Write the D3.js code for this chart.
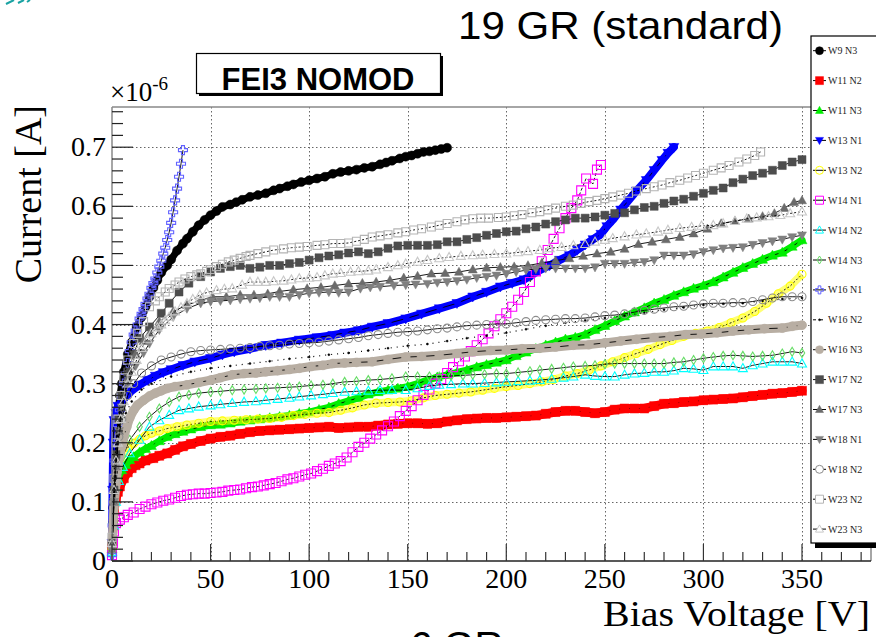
<!DOCTYPE html>
<html><head><meta charset="utf-8">
<script src="https://cdn.jsdelivr.net/npm/d3@7"></script>
<style>body{margin:0;background:#fff;} svg{display:block;}</style>
</head><body>
<svg id="chart" width="876" height="637"></svg>
<script>
// ---------- DATA (Bias voltage [V], current [x1e-6 A]) ----------
const W9_N3 = [[0,0.02],[0.5,0.09],[1,0.15],[2,0.21],[3,0.25],[4,0.28],[5,0.30],[6,0.32],[8,0.35],[10,0.37],[12.5,0.396],[15,0.413],[17,0.43],[19,0.447],[21,0.462],[23,0.475],[25,0.488],[28,0.5],[30,0.51],[33,0.525],[36,0.537],[38,0.545],[41,0.557],[44,0.568],[47,0.577],[50,0.585],[53,0.592],[56,0.599],[60,0.603],[63,0.607],[66,0.611],[70,0.616],[74,0.619],[78,0.622],[82,0.627],[85,0.63],[89,0.634],[92,0.637],[96,0.641],[100,0.644],[104,0.647],[108,0.65],[112,0.655],[116,0.658],[120,0.66],[124,0.662],[128,0.665],[132,0.667],[136,0.671],[139,0.674],[142,0.677],[146,0.681],[149,0.684],[152,0.686],[155,0.689],[158,0.692],[161,0.693],[164,0.695],[167,0.697],[170,0.699]];
const W11_N2 = [[0,0.02],[0.5,0.06],[1,0.085],[2,0.105],[3,0.117],[4,0.126],[6,0.14],[8,0.15],[10,0.157],[12,0.162],[14,0.165],[17,0.17],[21,0.174],[24,0.178],[28,0.182],[32,0.188],[36,0.194],[40,0.198],[45,0.203],[50,0.207],[55,0.21],[60,0.212],[65,0.215],[70,0.218],[75,0.22],[80,0.221],[85,0.222],[90,0.223],[95,0.224],[100,0.225],[105,0.226],[110,0.227],[115,0.225],[120,0.226],[125,0.227],[130,0.227],[135,0.229],[140,0.231],[145,0.232],[150,0.233],[155,0.233],[160,0.232],[165,0.233],[170,0.236],[175,0.238],[180,0.24],[185,0.241],[190,0.242],[195,0.242],[200,0.243],[205,0.244],[210,0.245],[215,0.246],[220,0.249],[225,0.252],[230,0.254],[235,0.254],[240,0.252],[245,0.25],[250,0.252],[255,0.256],[260,0.258],[265,0.258],[270,0.258],[275,0.262],[280,0.266],[285,0.267],[290,0.269],[295,0.27],[300,0.272],[305,0.273],[310,0.274],[315,0.275],[320,0.277],[325,0.279],[330,0.281],[335,0.283],[340,0.284],[345,0.286],[350,0.288]];
const W11_N3 = [[0,0.02],[0.5,0.07],[1,0.1],[2,0.125],[3,0.14],[5,0.154],[7,0.163],[9,0.171],[11,0.176],[14,0.184],[17,0.19],[20,0.195],[24,0.203],[28,0.21],[32,0.215],[36,0.219],[40,0.223],[45,0.227],[50,0.23],[55,0.231],[60,0.233],[65,0.236],[70,0.238],[75,0.24],[80,0.242],[85,0.244],[90,0.246],[95,0.249],[100,0.252],[105,0.256],[110,0.26],[115,0.266],[120,0.271],[125,0.276],[130,0.282],[135,0.286],[140,0.289],[145,0.292],[150,0.295],[155,0.3],[160,0.306],[165,0.311],[170,0.315],[175,0.319],[180,0.323],[185,0.328],[190,0.332],[195,0.336],[200,0.34],[205,0.347],[210,0.353],[215,0.359],[220,0.365],[225,0.37],[230,0.375],[235,0.378],[240,0.383],[245,0.391],[250,0.398],[255,0.406],[260,0.414],[265,0.421],[270,0.428],[275,0.436],[280,0.442],[285,0.449],[290,0.455],[295,0.461],[300,0.466],[305,0.472],[310,0.48],[315,0.488],[320,0.496],[325,0.503],[330,0.51],[335,0.517],[340,0.522],[345,0.532],[350,0.543]];
const W13_N1 = [[0,0.03],[0.3,0.12],[0.6,0.2],[1,0.238],[2,0.25],[3,0.262],[5,0.27],[7,0.278],[10,0.288],[14,0.298],[18,0.306],[22,0.313],[26,0.319],[30,0.324],[36,0.331],[42,0.337],[50,0.343],[56,0.349],[62,0.354],[70,0.359],[78,0.365],[86,0.369],[95,0.374],[104,0.378],[112,0.382],[118,0.386],[125,0.39],[132,0.396],[140,0.402],[149,0.41],[157,0.418],[166,0.427],[175,0.436],[183,0.447],[190,0.455],[197,0.464],[203,0.47],[209,0.476],[213,0.484],[217,0.492],[222,0.5],[227,0.509],[232,0.517],[236,0.526],[240,0.535],[244,0.544],[248,0.553],[251,0.566],[254,0.577],[258,0.594],[262,0.61],[266,0.626],[271,0.644],[275,0.661],[279,0.678],[282,0.69],[285,0.7]];
const W13_N2 = [[0,0.02],[1,0.1],[2,0.14],[3,0.16],[4,0.172],[6,0.183],[8,0.192],[11,0.199],[14,0.206],[17,0.212],[20,0.216],[24,0.22],[28,0.224],[33,0.227],[38,0.23],[44,0.233],[50,0.236],[56,0.237],[62,0.238],[68,0.239],[74,0.24],[80,0.241],[86,0.243],[92,0.246],[98,0.248],[104,0.25],[110,0.251],[116,0.255],[122,0.259],[128,0.264],[134,0.267],[140,0.268],[146,0.269],[152,0.271],[158,0.276],[164,0.28],[170,0.282],[176,0.284],[182,0.286],[188,0.289],[194,0.292],[200,0.295],[206,0.297],[212,0.3],[218,0.303],[224,0.307],[230,0.313],[236,0.317],[242,0.323],[248,0.33],[254,0.337],[260,0.344],[266,0.351],[272,0.358],[278,0.366],[284,0.373],[290,0.38],[296,0.385],[302,0.389],[308,0.395],[314,0.403],[320,0.411],[326,0.422],[332,0.436],[338,0.452],[344,0.465],[350,0.485]];
const W14_N1 = [[0,0.01],[0.5,0.03],[1,0.05],[2,0.064],[4,0.07],[6,0.074],[8,0.078],[11,0.082],[14,0.088],[17,0.092],[20,0.096],[23,0.099],[26,0.102],[29,0.104],[32,0.107],[35,0.11],[38,0.112],[41,0.113],[44,0.114],[47,0.114],[50,0.115],[53,0.116],[56,0.117],[59,0.119],[62,0.12],[65,0.121],[68,0.123],[71,0.125],[74,0.126],[77,0.128],[80,0.13],[83,0.132],[86,0.135],[89,0.138],[92,0.14],[95,0.143],[98,0.146],[101,0.148],[104,0.152],[107,0.156],[110,0.161],[113,0.165],[116,0.169],[119,0.175],[122,0.184],[125,0.193],[128,0.2],[131,0.207],[134,0.214],[137,0.221],[140,0.228],[143,0.236],[146,0.245],[149,0.254],[152,0.262],[155,0.272],[158,0.281],[161,0.29],[164,0.3],[167,0.308],[170,0.318],[173,0.328],[176,0.338],[179,0.346],[182,0.355],[185,0.365],[188,0.375],[191,0.385],[194,0.397],[197,0.409],[200,0.419],[203,0.43],[206,0.442],[209,0.455],[212,0.472],[215,0.49],[218,0.507],[221,0.526],[224,0.545],[227,0.563],[230,0.58],[233,0.597],[236,0.61],[238,0.627],[240.5,0.647],[244,0.638],[246,0.662],[248,0.67]];
const W14_N2 = [[0,0.015],[1,0.06],[2,0.1],[3.5,0.135],[5.5,0.159],[9,0.182],[14,0.205],[19,0.227],[24,0.238],[29,0.247],[34,0.255],[39,0.258],[44,0.261],[50,0.263],[55,0.265],[61,0.267],[67,0.269],[73,0.27],[78,0.272],[84,0.274],[90,0.276],[95,0.278],[101,0.28],[107,0.282],[112,0.284],[118,0.286],[124,0.287],[130,0.288],[136,0.289],[142,0.289],[149,0.289],[155,0.292],[161,0.296],[166,0.298],[172,0.299],[178,0.3],[183,0.3],[189,0.301],[195,0.302],[200,0.303],[206,0.304],[212,0.305],[217,0.306],[223,0.308],[229,0.31],[234,0.312],[240,0.315],[245,0.313],[250,0.312],[255,0.312],[260,0.315],[265,0.317],[270,0.318],[275,0.32],[280,0.32],[285,0.322],[290,0.326],[295,0.325],[300,0.323],[305,0.329],[310,0.329],[315,0.329],[320,0.326],[325,0.331],[330,0.334],[335,0.337],[340,0.337],[345,0.337],[350,0.334]];
const W14_N3 = [[0,0.015],[1,0.07],[2,0.11],[3.5,0.15],[5.5,0.177],[9,0.205],[14,0.227],[19,0.244],[24,0.258],[29,0.269],[34,0.278],[39,0.281],[44,0.284],[50,0.286],[55,0.287],[61,0.289],[67,0.29],[73,0.291],[78,0.292],[84,0.293],[90,0.294],[95,0.295],[101,0.297],[107,0.298],[112,0.3],[118,0.303],[124,0.304],[130,0.306],[136,0.307],[142,0.309],[149,0.312],[155,0.312],[161,0.312],[166,0.312],[172,0.313],[178,0.314],[183,0.315],[189,0.316],[195,0.317],[200,0.317],[206,0.319],[212,0.321],[217,0.323],[223,0.325],[229,0.327],[234,0.329],[240,0.33],[245,0.331],[250,0.333],[255,0.334],[260,0.334],[265,0.334],[270,0.334],[275,0.334],[280,0.334],[285,0.336],[290,0.337],[295,0.34],[300,0.343],[305,0.345],[310,0.347],[315,0.348],[320,0.347],[325,0.346],[330,0.347],[335,0.348],[340,0.351],[345,0.354],[350,0.352]];
const W16_N1 = [[0,0.01],[0.3,0.06],[0.7,0.12],[1.2,0.17],[2,0.2],[3,0.23],[4,0.255],[5,0.28],[6,0.3],[7,0.318],[8,0.335],[9,0.355],[10,0.37],[11,0.383],[12,0.39],[13,0.4],[14,0.41],[15,0.418],[16,0.426],[17,0.435],[18,0.444],[19,0.452],[20,0.462],[21,0.47],[22,0.478],[23,0.488],[24,0.498],[25,0.508],[26,0.52],[27,0.53],[28,0.543],[29,0.556],[30,0.572],[31,0.59],[32,0.61],[33,0.63],[34,0.65],[35,0.672],[36,0.695]];
const W16_N2 = [[0,0.02],[1,0.12],[2,0.17],[4,0.22],[7,0.25],[10,0.27],[15,0.29],[20,0.3],[30,0.312],[40,0.32],[50,0.326],[60,0.33],[70,0.334],[80,0.338],[90,0.342],[100,0.345],[110,0.349],[120,0.352],[130,0.356],[140,0.36],[150,0.364],[160,0.367],[170,0.372],[180,0.377],[190,0.381],[200,0.386],[210,0.392],[220,0.398],[230,0.403],[240,0.407],[250,0.411],[260,0.415],[270,0.42],[280,0.425],[290,0.429],[300,0.433],[310,0.435],[320,0.436],[330,0.44],[340,0.443],[350,0.445]];
const W16_N3 = [[0,0.03],[1,0.09],[2,0.13],[3,0.16],[4,0.18],[5,0.195],[6,0.21],[7.5,0.227],[9,0.242],[11,0.255],[13,0.264],[16,0.272],[19,0.279],[22,0.284],[25,0.288],[28,0.292],[32,0.295],[38,0.298],[44,0.302],[50,0.306],[55,0.31],[61,0.315],[67,0.317],[73,0.318],[78,0.32],[84,0.322],[90,0.324],[95,0.326],[101,0.329],[107,0.331],[112,0.334],[118,0.335],[124,0.336],[132,0.337],[140,0.341],[149,0.345],[157,0.346],[166,0.348],[175,0.351],[183,0.354],[192,0.356],[200,0.357],[208,0.359],[217,0.36],[225,0.362],[234,0.365],[242,0.366],[250,0.369],[258,0.372],[266,0.375],[275,0.378],[283,0.38],[291,0.383],[299,0.384],[307,0.386],[315,0.389],[323,0.391],[331,0.393],[340,0.394],[345,0.397],[350,0.399]];
const W17_N2 = [[0,0.03],[1,0.12],[2,0.18],[3.5,0.24],[5,0.28],[8,0.32],[11,0.35],[14,0.377],[19,0.396],[25,0.419],[29,0.436],[34,0.455],[39,0.47],[45,0.481],[50,0.489],[55,0.495],[60,0.498],[65,0.5],[70,0.495],[75,0.497],[80,0.5],[85,0.5],[90,0.503],[95,0.505],[100,0.509],[105,0.513],[110,0.516],[115,0.518],[120,0.521],[125,0.523],[130,0.52],[135,0.523],[140,0.529],[145,0.533],[150,0.534],[155,0.534],[160,0.534],[165,0.535],[170,0.54],[175,0.54],[180,0.544],[185,0.547],[190,0.551],[195,0.554],[200,0.557],[205,0.558],[210,0.562],[215,0.565],[220,0.57],[225,0.574],[230,0.577],[235,0.58],[240,0.58],[245,0.582],[250,0.585],[255,0.588],[260,0.589],[265,0.594],[270,0.598],[275,0.6],[280,0.605],[285,0.609],[290,0.612],[295,0.617],[300,0.622],[305,0.627],[310,0.631],[315,0.64],[320,0.646],[325,0.652],[330,0.656],[335,0.661],[340,0.669],[345,0.675],[350,0.679]];
const W17_N3 = [[0,0.02],[1,0.1],[2,0.16],[3.5,0.22],[5,0.26],[8,0.31],[12,0.35],[16,0.372],[19,0.385],[24,0.405],[31,0.422],[38,0.433],[45,0.441],[51,0.447],[58,0.447],[65,0.45],[72,0.45],[79,0.452],[85,0.456],[92,0.459],[99,0.461],[106,0.463],[113,0.466],[120,0.469],[127,0.47],[134,0.472],[141,0.475],[148,0.479],[155,0.482],[162,0.486],[169,0.487],[176,0.489],[183,0.493],[190,0.496],[197,0.497],[204,0.498],[211,0.5],[218,0.504],[225,0.508],[232,0.512],[239,0.516],[246,0.52],[253,0.523],[260,0.528],[267,0.536],[274,0.54],[281,0.544],[288,0.548],[295,0.554],[302,0.562],[309,0.571],[316,0.575],[323,0.579],[330,0.583],[336,0.588],[341,0.597],[346,0.607],[350,0.61]];
const W18_N1 = [[0,0.02],[1,0.1],[2,0.16],[3.5,0.22],[5,0.26],[8,0.3],[12,0.33],[16,0.352],[19,0.368],[24,0.391],[31,0.413],[38,0.427],[45,0.436],[50,0.439],[55,0.44],[60,0.441],[65,0.443],[70,0.444],[75,0.445],[80,0.447],[85,0.447],[90,0.447],[95,0.45],[100,0.453],[105,0.454],[110,0.455],[115,0.454],[120,0.455],[126,0.461],[131,0.463],[136,0.464],[143,0.466],[149,0.467],[154,0.468],[160,0.469],[165,0.471],[170,0.472],[175,0.474],[180,0.476],[185,0.479],[190,0.481],[195,0.483],[200,0.486],[205,0.489],[210,0.492],[215,0.494],[220,0.495],[225,0.495],[230,0.495],[235,0.495],[240,0.495],[245,0.497],[250,0.503],[255,0.503],[260,0.503],[265,0.505],[270,0.506],[275,0.509],[280,0.517],[285,0.517],[290,0.517],[295,0.519],[300,0.523],[305,0.526],[310,0.529],[315,0.53],[320,0.531],[325,0.535],[330,0.538],[335,0.541],[340,0.544],[345,0.548],[350,0.551]];
const W18_N2 = [[0,0.02],[1,0.1],[2,0.16],[3.5,0.21],[5,0.24],[8,0.28],[11,0.3],[15,0.318],[20,0.33],[25,0.34],[30,0.345],[35,0.35],[40,0.354],[45,0.356],[50,0.357],[55,0.358],[60,0.359],[65,0.36],[70,0.361],[75,0.363],[80,0.364],[85,0.365],[90,0.367],[95,0.368],[100,0.369],[105,0.37],[110,0.372],[115,0.374],[120,0.376],[125,0.378],[130,0.381],[135,0.383],[140,0.385],[145,0.387],[150,0.388],[155,0.389],[160,0.391],[165,0.393],[170,0.394],[175,0.396],[180,0.398],[185,0.399],[190,0.4],[195,0.401],[200,0.401],[205,0.403],[210,0.405],[215,0.407],[220,0.408],[225,0.409],[230,0.41],[235,0.41],[240,0.411],[245,0.413],[250,0.415],[255,0.416],[260,0.418],[265,0.421],[270,0.424],[275,0.426],[280,0.428],[285,0.43],[290,0.431],[295,0.433],[300,0.435],[305,0.436],[310,0.436],[315,0.437],[320,0.437],[325,0.439],[330,0.442],[335,0.445],[340,0.447],[345,0.447],[350,0.447]];
const W23_N2 = [[0,0.04],[1,0.14],[2,0.2],[3,0.24],[4.5,0.28],[6,0.31],[8,0.34],[11,0.368],[13,0.385],[16,0.405],[19,0.43],[22,0.44],[24,0.447],[27,0.455],[29,0.461],[32,0.467],[34,0.472],[37,0.477],[40,0.481],[43,0.484],[45,0.486],[48,0.49],[50,0.493],[53,0.498],[56,0.502],[59,0.506],[62,0.509],[65,0.512],[68,0.515],[70,0.517],[74,0.52],[78,0.523],[82,0.526],[87,0.528],[91,0.53],[95,0.531],[99,0.532],[104,0.534],[108,0.535],[112,0.537],[116,0.537],[120,0.538],[124,0.541],[128,0.544],[132,0.548],[136,0.55],[140,0.552],[145,0.555],[149,0.557],[153,0.56],[157,0.562],[162,0.565],[166,0.568],[170,0.571],[175,0.574],[179,0.577],[183,0.579],[187,0.58],[191,0.58],[196,0.581],[200,0.582],[204,0.584],[208,0.586],[213,0.589],[217,0.591],[221,0.594],[225,0.597],[230,0.6],[234,0.602],[238,0.605],[242,0.608],[246,0.61],[250,0.613],[254,0.616],[258,0.619],[262,0.622],[266,0.626],[271,0.63],[275,0.633],[279,0.636],[283,0.64],[288,0.644],[292,0.648],[296,0.652],[300,0.656],[305,0.661],[309,0.665],[313,0.669],[318,0.675],[322,0.68],[326,0.686],[329,0.692]];
const W23_N3 = [[0,0.03],[1,0.12],[2,0.17],[3,0.2],[4.5,0.24],[6,0.27],[8,0.3],[10,0.32],[12.5,0.34],[15,0.36],[18,0.375],[20,0.385],[23,0.395],[25,0.4],[27,0.407],[29,0.413],[32,0.422],[35,0.429],[38,0.436],[41,0.443],[44.6,0.45],[48,0.454],[53,0.458],[57,0.46],[61,0.461],[66,0.467],[70,0.472],[74,0.472],[78,0.472],[82,0.473],[87,0.474],[91,0.476],[95,0.478],[100,0.479],[104,0.48],[108,0.483],[112,0.486],[116,0.487],[121,0.489],[125,0.49],[130,0.491],[134,0.493],[140,0.497],[145,0.5],[149,0.503],[155,0.506],[160,0.509],[166,0.512],[171,0.514],[177,0.516],[183,0.517],[188,0.518],[194,0.519],[200,0.52],[206,0.522],[211,0.524],[217,0.526],[222,0.529],[228,0.531],[234,0.534],[240,0.536],[245,0.54],[250,0.543],[254,0.546],[260,0.549],[266,0.552],[271,0.554],[277,0.557],[282,0.56],[288,0.563],[294,0.565],[299,0.567],[305,0.568],[310,0.571],[316,0.575],[322,0.579],[327,0.581],[333,0.583],[339,0.585],[344,0.588],[350,0.591]];

const xTickValues = [0,50,100,150,200,250,300,350];
const yTickValues = [0,0.1,0.2,0.3,0.4,0.5,0.6,0.7];

// ---------- STYLES ----------
const series = [
 {name:'W9 N3',  data:W9_N3,  color:'#000000', marker:'circle',  fill:true,  size:9, band:7},
 {name:'W11 N2', data:W11_N2, color:'#ff0000', marker:'square',  fill:true,  size:9, band:9},
 {name:'W11 N3', data:W11_N3, color:'#00ee00', marker:'tri',     fill:true,  size:10, band:7},
 {name:'W13 N1', data:W13_N1, color:'#0000ff', marker:'tridown', fill:true,  size:10, band:8},
 {name:'W13 N2', data:W13_N2, color:'#ffff00', marker:'circle',  fill:false, size:8, dash:'2,2', halo:true},
 {name:'W14 N1', data:W14_N1, color:'#ff00ff', marker:'square',  fill:false, size:9, dash:'3,2'},
 {name:'W14 N2', data:W14_N2, color:'#00ffff', marker:'tri',     fill:false, size:9},
 {name:'W14 N3', data:W14_N3, color:'#66dd66', marker:'diamond', fill:false, size:9},
 {name:'W16 N1', data:W16_N1, color:'#6262ff', marker:'cross',   fill:false, size:9},
 {name:'W16 N2', data:W16_N2, color:'#000000', marker:'dot',     fill:true,  size:2, dash:'1,5'},
 {name:'W16 N3', data:W16_N3, color:'#b8aea3', marker:'circle',  fill:true,  size:9, band:9},
 {name:'W17 N2', data:W17_N2, color:'#4d4d4d', marker:'square',  fill:true,  size:8},
 {name:'W17 N3', data:W17_N3, color:'#6b6b6b', marker:'tri',     fill:true,  size:9},
 {name:'W18 N1', data:W18_N1, color:'#808080', marker:'tridown', fill:true,  size:9},
 {name:'W18 N2', data:W18_N2, color:'#8c8c8c', marker:'circle',  fill:false, size:8},
 {name:'W23 N2', data:W23_N2, color:'#b4b4b4', marker:'square',  fill:false, size:8, dash:'2,2'},
 {name:'W23 N3', data:W23_N3, color:'#c8c8c8', marker:'tri',     fill:false, size:9, dash:'2,2'}
];

const svg = d3.select('#chart');
const x = d3.scaleLinear().domain([0,385]).range([112,871]);
const y = d3.scaleLinear().domain([0,0.768]).range([561,107]);
const serif = "'Liberation Serif','Times New Roman',serif";
const sans = "'Liberation Sans',Arial,sans-serif";

function markerPath(type, s){
  const h = s/2;
  switch(type){
    case 'circle': return d3.symbol(d3.symbolCircle, Math.PI*h*h)();
    case 'square': return `M${-h},${-h}H${h}V${h}H${-h}Z`;
    case 'tri': return `M0,${-h*1.05}L${h},${h*0.75}L${-h},${h*0.75}Z`;
    case 'tridown': return `M0,${h*1.05}L${h},${-h*0.75}L${-h},${-h*0.75}Z`;
    case 'diamond': return `M0,${-h}L${h*0.6},0L0,${h}L${-h*0.6},0Z`;
    case 'cross': { const a=s/6; return `M${-a},${-h}H${a}V${-a}H${h}V${a}H${a}V${h}H${-a}V${a}H${-h}V${-a}H${-a}Z`; }
    case 'dot': return d3.symbol(d3.symbolCircle, Math.PI)();
  }
}

// ---------- GRID ----------
const grid = svg.append('g').attr('stroke','#666').attr('stroke-width',1).attr('stroke-dasharray','1.5,2.5');
grid.selectAll('line.v').data(xTickValues.filter(d=>d>0)).join('line')
  .attr('x1',d=>Math.round(x(d))+0.5).attr('x2',d=>Math.round(x(d))+0.5).attr('y1',y(0.768)).attr('y2',y(0));
grid.selectAll('line.h').data(yTickValues.filter(d=>d>0)).join('line')
  .attr('y1',d=>Math.round(y(d))+0.5).attr('y2',d=>Math.round(y(d))+0.5).attr('x1',x(0)).attr('x2',x(385));

// ---------- SERIES ----------
const line = d3.line().x(d=>x(d[0])).y(d=>y(d[1]));
const plotG = svg.append('g');
series.forEach(s=>{
  const g = plotG.append('g');
  if (s.band) {
    g.append('path').attr('d', line(s.data)).attr('fill','none')
     .attr('stroke', s.color).attr('stroke-width', s.band).attr('stroke-linejoin','round').attr('stroke-linecap','round');
  }
  if (s.halo) {
    g.append('path').attr('d', line(s.data)).attr('fill','none')
     .attr('stroke', s.color).attr('stroke-opacity',0.55).attr('stroke-width', 8).attr('stroke-linejoin','round');
  }
  g.append('path').attr('d', line(s.data)).attr('fill','none')
   .attr('stroke', '#000').attr('stroke-width', s.name==='W16 N2' ? 1.2 : 0.9)
   .attr('stroke-dasharray', s.dash || null);
  g.selectAll('path.m').data(s.data).join('path').attr('class','m')
   .attr('transform', d=>`translate(${x(d[0])},${y(d[1])})`)
   .attr('d', markerPath(s.marker, s.size))
   .attr('fill', s.fill ? s.color : 'none')
   .attr('stroke', s.color).attr('stroke-width', s.fill ? 0.5 : 1.1);
});

// ---------- FRAME & AXES ----------
svg.append('line').attr('x1',112).attr('x2',112).attr('y1',107).attr('y2',561).attr('stroke','#888').attr('stroke-width',1.5);
svg.append('line').attr('x1',112).attr('x2',871).attr('y1',107).attr('y2',107).attr('stroke','#888').attr('stroke-width',1.5);
svg.append('line').attr('x1',871).attr('x2',871).attr('y1',107).attr('y2',561).attr('stroke','#888').attr('stroke-width',1.5);
svg.append('line').attr('x1',112).attr('x2',871).attr('y1',561).attr('y2',561).attr('stroke','#222').attr('stroke-width',1.5);

// y ticks
const yMinor = d3.range(0, 0.7601, 0.02);
svg.append('g').selectAll('line').data(yMinor).join('line')
  .attr('x1',112).attr('x2',(d,i)=> i%5===0 ? 133 : 123)
  .attr('y1',d=>y(d)).attr('y2',d=>y(d)).attr('stroke','#222').attr('stroke-width',1.2);
// x ticks
const xMinor = d3.range(0, 381, 10);
svg.append('g').selectAll('line').data(xMinor).join('line')
  .attr('x1',d=>x(d)).attr('x2',d=>x(d)).attr('y1',561)
  .attr('y2',(d,i)=> i%5===0 ? 544 : 552).attr('stroke','#333').attr('stroke-width',1.2);

// tick labels
svg.append('g').selectAll('text').data(yTickValues).join('text')
  .attr('x',106).attr('y',d=>y(d)+9).attr('text-anchor','end')
  .attr('font-family',serif).attr('font-size',28).attr('fill','#000')
  .text(d=>d===0?'0':d3.format('.1f')(d));
svg.append('g').selectAll('text').data(xTickValues).join('text')
  .attr('x',d=>x(d)).attr('y',588).attr('text-anchor','middle')
  .attr('font-family',serif).attr('font-size',28).attr('fill','#000')
  .text(d=>d);

// exponent
const ex = svg.append('text').attr('x',110).attr('y',101).attr('font-family',serif).attr('font-size',27).attr('fill','#000');
ex.append('tspan').text('×10');
ex.append('tspan').attr('font-size',19).attr('dy',-11).text('-6');

// axis titles
svg.append('text').attr('transform','translate(41,105) rotate(-90)').attr('text-anchor','end')
  .attr('font-family',serif).attr('font-size',38).attr('fill','#000').text('Current [A]');
svg.append('text').attr('x',870).attr('y',626).attr('text-anchor','end')
  .attr('font-family',serif).attr('font-size',36).attr('fill','#000')
  .attr('textLength',267).attr('lengthAdjust','spacingAndGlyphs').text('Bias Voltage [V]');

// ---------- LEGEND ----------
svg.append('rect').attr('x',815).attr('y',40).attr('width',80).attr('height',508).attr('fill','#000');
svg.append('rect').attr('x',811).attr('y',36).attr('width',80).attr('height',507).attr('fill','#fff').attr('stroke','#000').attr('stroke-width',1.2);
const leg = svg.append('g');
series.forEach((s,i)=>{
  const ly = 50.7 + i*29.9;
  const g = leg.append('g').attr('transform',`translate(0,${ly})`);
  g.append('line').attr('x1',813).attr('x2',826).attr('y1',0).attr('y2',0).attr('stroke','#000').attr('stroke-width',1)
    .attr('stroke-dasharray', s.name==='W16 N2' ? '3,4' : null);
  g.append('path').attr('transform','translate(819.5,0)').attr('d',markerPath(s.marker, s.marker==='dot'?2:Math.min(s.size,8)))
    .attr('fill', s.fill ? s.color : (s.name==='W18 N2'||s.name==='W23 N2'||s.name==='W23 N3' ? '#fff' : 'none'))
    .attr('stroke', s.color).attr('stroke-width', s.fill?0.5:1);
  g.append('text').attr('x',828).attr('y',3.5).attr('font-family',serif).attr('font-size',10).attr('fill','#222').text(s.name);
});

// ---------- TITLES / ANNOTATIONS ----------
svg.append('text').attr('x',458).attr('y',39).attr('font-family',sans).attr('font-size',39).attr('fill','#000')
  .attr('textLength',325).attr('lengthAdjust','spacingAndGlyphs').text('19 GR (standard)');
svg.append('rect').attr('x',199).attr('y',56).attr('width',244).attr('height',40).attr('fill','#000');
svg.append('rect').attr('x',196.5).attr('y',53.5).attr('width',244).attr('height',40).attr('fill','#fff').attr('stroke','#000').attr('stroke-width',1.2);
svg.append('text').attr('x',318).attr('y',90).attr('text-anchor','middle').attr('font-family',sans).attr('font-weight','bold')
  .attr('font-size',31).attr('fill','#000').text('FEI3 NOMOD');
svg.append('text').attr('x',410).attr('y',660).attr('font-family',sans).attr('font-size',40).attr('fill','#000').text('6 GR');
svg.append('path').attr('d','M6,4 L14,0 M18,3 L24,0 M27,2 L30,0').attr('stroke','#1aa3a3').attr('stroke-width',2).attr('fill','none');
</script>
</body></html>
